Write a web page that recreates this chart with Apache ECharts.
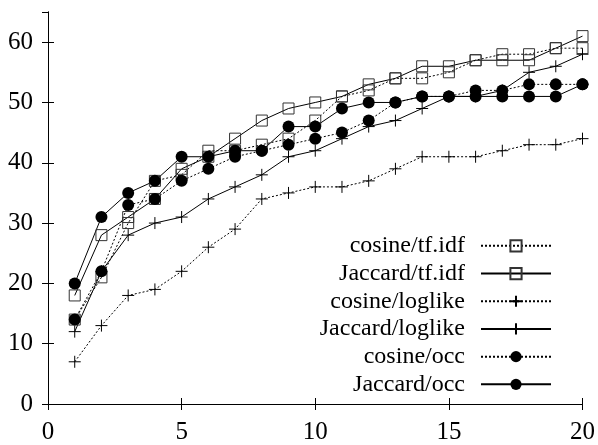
<!DOCTYPE html>
<html>
<head>
<meta charset="utf-8">
<script src="https://cdn.jsdelivr.net/npm/echarts@6/dist/echarts.min.js"></script>
<style>html,body{margin:0;padding:0;background:#fff}#c{width:598px;height:445px}</style>
</head>
<body>
<div id="c"></div>
<script>
var xs = [1,2,3,4,5,6,7,8,9,10,11,12,13,14,15,16,17,18,19,20];
var cosTfidf = [14,21,30,37,38,42,42,43,44,47,51,52,54,54,55,57,58,58,59,59];
var jacTfidf = [18,28,31,34,39,41,44,47,49,50,51,53,54,56,56,57,57,57,59,61];
var cosLog   = [7,13,18,19,22,26,29,34,35,36,36,37,39,41,41,41,42,43,43,44];
var jacLog   = [12,22,28,30,31,34,36,38,41,42,44,46,47,49,51,51,52,55,56,58];
var cosOcc   = [14,22,33,34,37,39,41,42,43,44,45,47,50,51,51,52,52,53,53,53];
var jacOcc   = [20,31,35,37,41,41,42,42,46,46,49,50,50,51,51,51,51,51,51,53];
var names = ['cosine/tf.idf','Jaccard/tf.idf','cosine/loglike','Jaccard/loglike','cosine/occ','Jaccard/occ'];
var xTicks = [0,5,10,15,20];
var yTicks = [0,10,20,30,40,50,60];

var FONT = '"Liberation Serif", "Times New Roman", serif';
var plus = 'path://M0,6L12,6M6,0L6,12';

function pairs(vals){ return xs.map(function(x,i){ return [x, vals[i]]; }); }

function mk(name, vals, dotted, sym){
  var s = {
    name: name, type: 'line', data: pairs(vals), clip: false,
    lineStyle: {color: '#000', width: 1, type: dotted ? [2,2] : 'solid'},
    symbolKeepAspect: true,
    emphasis: {disabled: true},
    animation: false
  };
  if (sym === 'sq') {
    s.symbol = 'rect'; s.symbolSize = 11;
    s.itemStyle = {color: 'rgba(255,255,255,0)', borderColor: '#333', borderWidth: 1};
  } else if (sym === 'plus') {
    s.symbol = plus; s.symbolSize = 12;
    s.itemStyle = {color: 'rgba(255,255,255,0)', borderColor: '#000', borderWidth: 1};
  } else {
    s.symbol = 'circle'; s.symbolSize = 12;
    s.itemStyle = {color: '#000', borderColor: '#000', borderWidth: 0};
  }
  return s;
}

var chart = echarts.init(document.getElementById('c'), null, {renderer: 'canvas'});
var axisCommon = {
  axisLine: {show: true, lineStyle: {color: '#000', width: 1}},
  axisTick: {show: true, inside: true, length: 6, lineStyle: {color: '#000', width: 1}},
  splitLine: {show: false}
};
chart.setOption({
  animation: false,
  backgroundColor: '#fff',
  grid: {left: 48, right: 15, top: 12, bottom: 40, containLabel: false},
  xAxis: [
    Object.assign({type: 'value', min: xTicks[0], max: xTicks[xTicks.length-1], interval: 5, position: 'bottom',
      axisLabel: {color: '#000', fontFamily: FONT, fontSize: 25, margin: 16}}, axisCommon),
    Object.assign({type: 'value', min: xTicks[0], max: xTicks[xTicks.length-1], interval: 5, position: 'top',
      axisLabel: {show: false}}, axisCommon)
  ],
  yAxis: [
    Object.assign({type: 'value', min: yTicks[0], max: 65, interval: 10, position: 'left',
      axisLabel: {color: '#000', fontFamily: FONT, fontSize: 25, margin: 15, showMaxLabel: false}}, axisCommon),
    Object.assign({type: 'value', min: yTicks[0], max: 65, interval: 10, position: 'right',
      axisLabel: {show: false}}, axisCommon)
  ],
  legend: {
    orient: 'vertical', align: 'right', right: 46, top: 232, padding: 0,
    itemWidth: 70, itemHeight: 14, itemGap: 0,
    selectedMode: false,
    textStyle: {color: '#000', fontFamily: FONT, fontSize: 24, lineHeight: 27.7, padding: [0, 11, 0, 0]},
    data: names
  },
  series: [
    mk(names[0], cosTfidf, true, 'sq'),
    mk(names[1], jacTfidf, false, 'sq'),
    mk(names[2], cosLog, true, 'plus'),
    mk(names[3], jacLog, false, 'plus'),
    mk(names[4], cosOcc, true, 'dot'),
    mk(names[5], jacOcc, false, 'dot')
  ]
});
</script>
</body>
</html>
